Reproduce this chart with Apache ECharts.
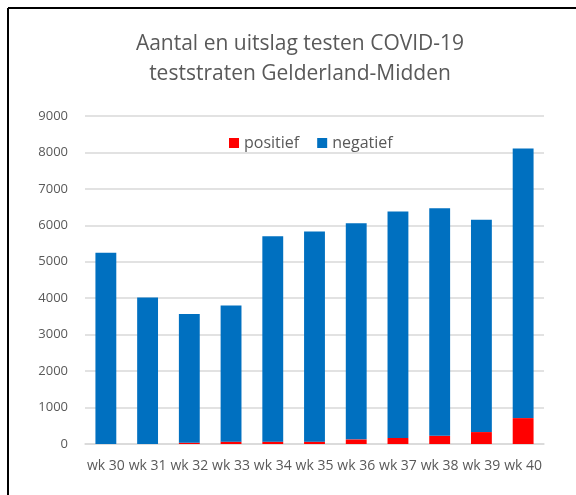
<!DOCTYPE html>
<html>
<head>
<meta charset="utf-8">
<script src="https://cdn.jsdelivr.net/npm/echarts@6/dist/echarts.min.js"></script>
<style>html,body{margin:0;padding:0;background:#fff}#c{width:576px;height:495px}</style>
</head>
<body>
<div id="c"></div>
<script>
var categories = ['wk 30','wk 31','wk 32','wk 33','wk 34','wk 35','wk 36','wk 37','wk 38','wk 39','wk 40'];
var totals = [5250, 4020, 3570, 3800, 5700, 5830, 6060, 6380, 6470, 6150, 8110];
var positief = [0, 0, 36, 65, 65, 65, 127, 164, 227, 327, 710];
var negatief = totals.map(function(t, i){ return t - positief[i]; });
var yTicks = [0,1000,2000,3000,4000,5000,6000,7000,8000,9000];

var chart = echarts.init(document.getElementById('c'), null, {renderer:'canvas'});
var font = '"Open Sans", "Liberation Sans", sans-serif';
chart.setOption({
  animation: false,
  backgroundColor: '#fff',
  title: {
    text: 'Aantal en uitslag testen COVID-19\nteststraten Gelderland-Midden',
    left: 295, top: 24, textAlign: 'center',
    textStyle: { fontFamily: font, fontSize: 21, fontWeight: 'normal', color: '#595959', lineHeight: 30 }
  },
  legend: {
    top: 130, left: 224, itemWidth: 10, itemHeight: 10, itemGap: 18,
    icon: 'rect',
    textStyle: { fontFamily: font, fontSize: 16, color: '#595959' },
    data: ['positief', 'negatief']
  },
  graphic: [
    { type: 'line', shape: { x1: 8, y1: 8, x2: 580, y2: 8 }, style: { stroke: '#000', lineWidth: 2 } },
    { type: 'line', shape: { x1: 8, y1: 8, x2: 8, y2: 500 }, style: { stroke: '#000', lineWidth: 2 } }
  ],
  grid: { left: 85, right: 32, top: 116, bottom: 51, containLabel: false },
  xAxis: {
    type: 'category', data: categories,
    axisLine: { show: true, lineStyle: { color: '#D9D9D9', width: 1.5 } },
    axisTick: { show: false },
    axisLabel: { fontFamily: font, fontSize: 14, color: '#595959', margin: 15, interval: 0 }
  },
  yAxis: {
    type: 'value', min: 0, max: 9000, interval: 1000,
    axisLine: { show: false }, axisTick: { show: false },
    splitLine: { lineStyle: { color: '#D9D9D9', width: 1.5 } },
    axisLabel: { fontFamily: font, fontSize: 13, color: '#595959', margin: 17,
      formatter: function(v){ return yTicks.indexOf(v) >= 0 ? String(v) : ''; } }
  },
  series: [
    { name: 'positief', type: 'bar', stack: 's', data: positief, barWidth: '50%', itemStyle: { color: '#FF0000' } },
    { name: 'negatief', type: 'bar', stack: 's', data: negatief, barWidth: '50%', itemStyle: { color: '#0070C0' } }
  ]
});
</script>
</body>
</html>
